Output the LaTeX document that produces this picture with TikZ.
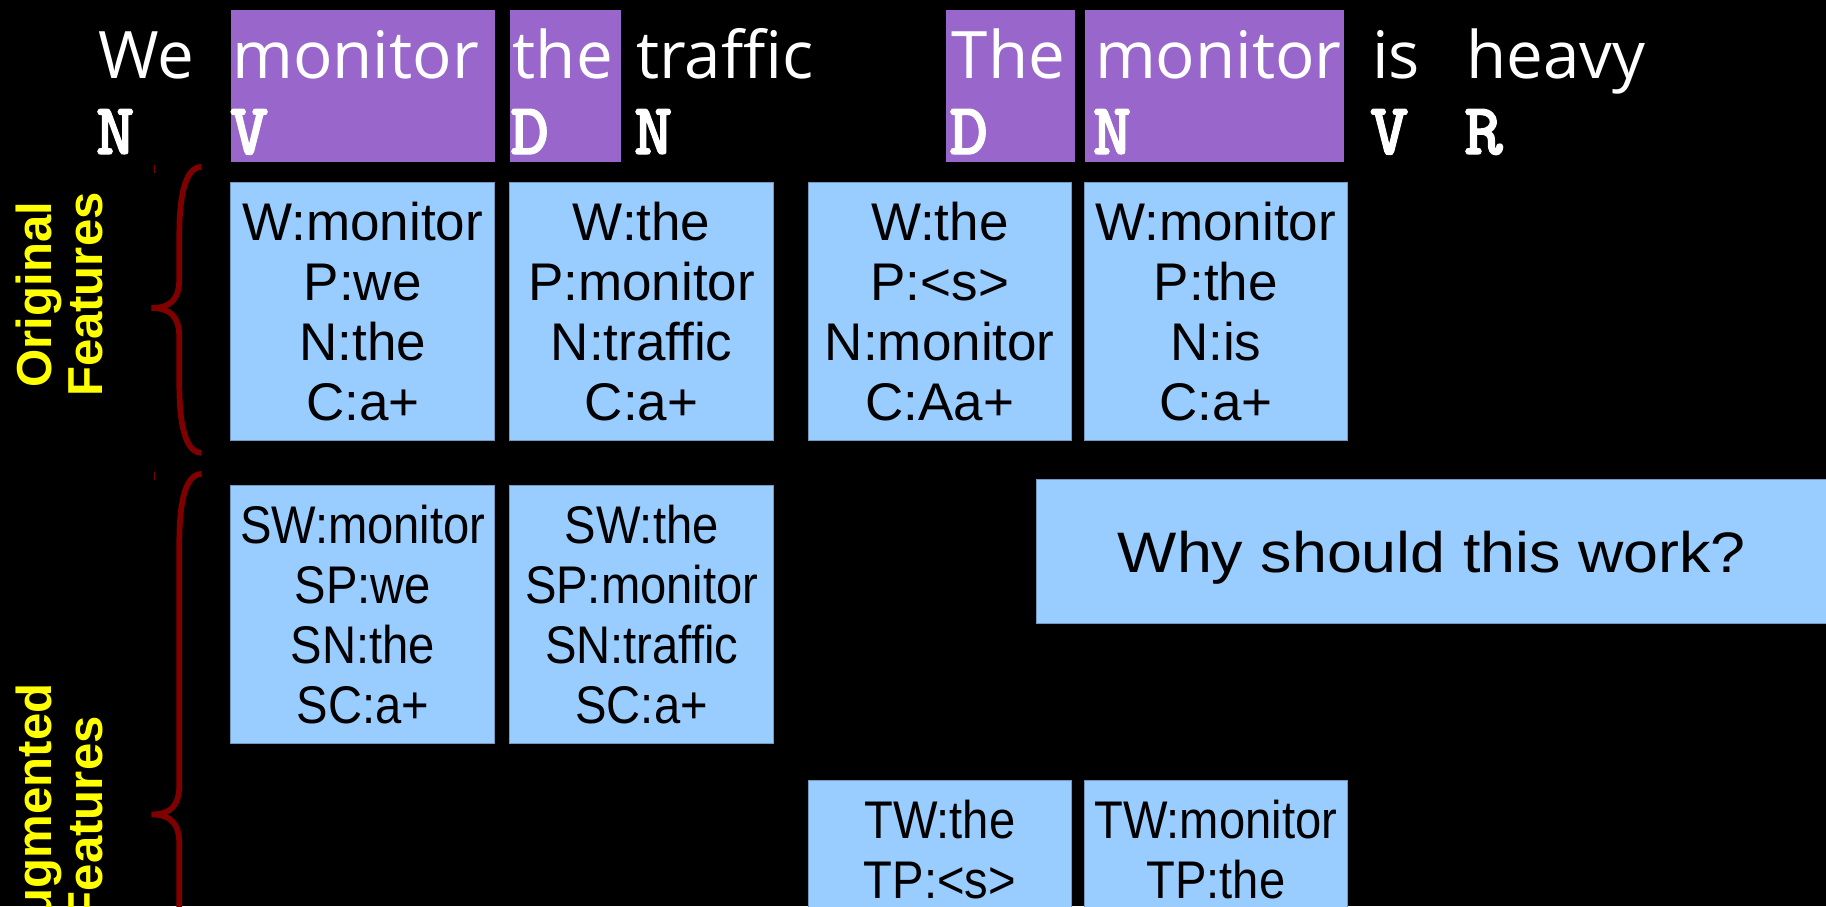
\documentclass[tikz,border=0pt]{standalone}
\usepackage{fontspec}
\setmainfont{Liberation Sans}
\newfontfamily\wordfont{Open Sans}
\newfontfamily\tagfont[FakeBold=1.5]{lmmonolt10-bold.otf}
\newfontfamily\narrowfont[FakeStretch=0.89]{Liberation Sans}
\newfontfamily\widefont[FakeStretch=1.1]{Liberation Sans}

\definecolor{hlpurple}{RGB}{153,102,204}
\definecolor{featblue}{RGB}{153,204,255}
\definecolor{bracered}{RGB}{128,0,0}
\definecolor{labelyellow}{RGB}{255,255,0}

\tikzset{
  word/.style={anchor=base west, inner sep=0pt, text=white,
    font=\wordfont\fontsize{32}{32}\selectfont},
  tag/.style={anchor=base west, inner sep=0pt, text=white,
    font=\tagfont\fontsize{36}{36}\selectfont},
  featbox/.style={fill=featblue, draw=featblue!75!black, line width=0.4pt,
    minimum width=4.53cm, minimum height=4.44cm, inner sep=0pt, align=center,
    font=\fontsize{25.9}{29.4}\selectfont},
  narrowbox/.style={featbox, font=\narrowfont\fontsize{25.9}{29.4}\selectfont},
  sidelabel/.style={text=labelyellow, rotate=90, align=center, inner sep=0pt,
    font=\bfseries\fontsize{24}{25.2}\selectfont}
}

\begin{document}
\begin{tikzpicture}[x=0.02cm,y=-0.02cm]
    \clip (0,0) rectangle (1568,778);
    \fill[black] (0,0) rectangle (1568,778);

    % highlighted words
    \foreach \xa/\xb in {198/425, 438/533, 812/923, 932/1154}
        \fill[hlpurple] (\xa,8.6) rectangle (\xb,139.4);

    % the two sentences with their tags
    \foreach \i/\x/\wrd/\tg in {1/84/We/N, 2/199/monitor/V, 3/440/the/D, 4/546/traffic/N,
                               5/817/The/D, 6/940/monitor/N, 7/1178/is/V, 8/1259/heavy/R}{
        \node[word] (w\i) at (\x,67.3) {\wrd};
        \node[tag] (t\i) at (\x-2,132.3) {\tg};
    }

    % original features
    \node[featbox] (o1) at (311.5,267.6) {W:monitor\\P:we\\N:the\\C:a+};
    \node[featbox] (o2) at (551,267.6) {W:the\\P:monitor\\N:traffic\\C:a+};
    \node[featbox] (o3) at (807,267.6) {W:the\\P:<s>\\N:monitor\\C:Aa+};
    \node[featbox] (o4) at (1044,267.6) {W:monitor\\P:the\\N:is\\C:a+};

    % augmented features, source and target copies
    \node[narrowbox] (s1) at (311.5,527.8) {SW:monitor\\SP:we\\SN:the\\SC:a+};
    \node[narrowbox] (s2) at (551,527.8) {SW:the\\SP:monitor\\SN:traffic\\SC:a+};
    \node[narrowbox] (g1) at (807,780.8) {TW:the\\TP:<s>\\\phantom{T}\\\phantom{T}};
    \node[narrowbox] (g2) at (1044,780.8) {TW:monitor\\TP:the\\\phantom{T}\\\phantom{T}};

    \node[featbox, minimum width=13.6cm, minimum height=2.47cm, text depth=0pt,
          font=\widefont\fontsize{27.9}{30}\selectfont] (why) at (1229.5,473.5) {Why should this work?};

    % braces and their labels
    \foreach \ya/\ym/\yb in {143.3/264.5/388.8, 407/699.4/991.8}{
        \draw[bracered, line width=2.8pt] (173,\ya) .. controls (160,\ya) and (154,\ya+22) .. (154,\ya+58)
            -- (154,\ym-26) .. controls (154,\ym-8) and (147,\ym) .. (130,\ym)
            .. controls (147,\ym) and (154,\ym+8) .. (154,\ym+26)
            -- (154,\yb-58) .. controls (154,\yb-22) and (160,\yb) .. (173,\yb);
        \draw[bracered, line width=0.5pt] (132.6,\ya-2) -- (132.6,\ya+5);
    }
    \node[sidelabel] (orig) at (51,253) {Original\\Features};
    \node[sidelabel] (aug) at (51,703) {Augmented\\Features};
\end{tikzpicture}
\end{document}
